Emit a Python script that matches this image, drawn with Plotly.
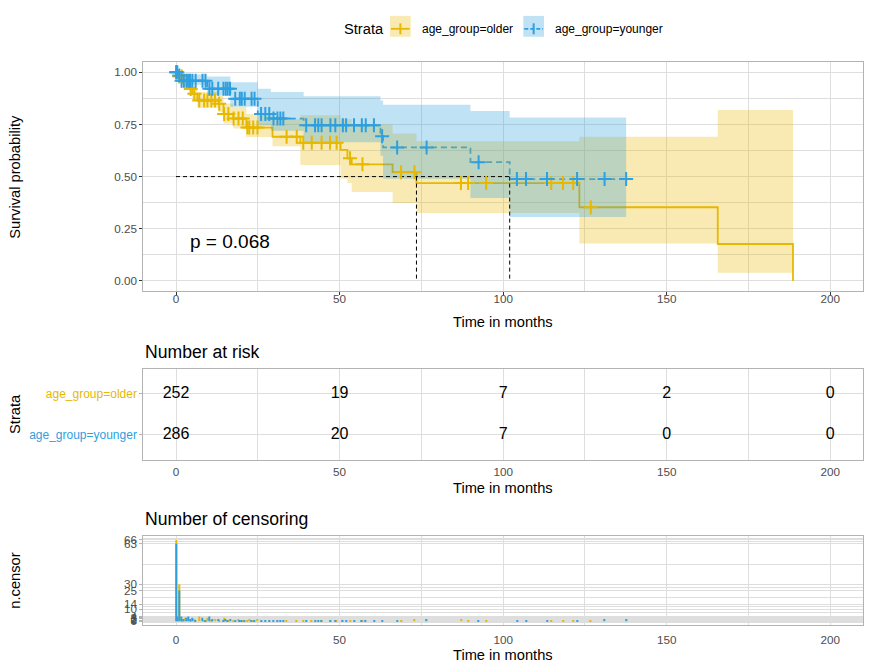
import numpy as np
import plotly.graph_objects as go

FONT = "Liberation Sans, Arial, sans-serif"
W, H = 871, 672

strata_labels = ["age_group=older", "age_group=younger"]
strata_colors = ["#E7B800", "#2E9FDF"]
band_colors = ["rgba(231,184,0,0.3)", "rgba(46,159,223,0.3)"]

# ---- survival estimates ----
older_time = [0, 1, 2, 3, 4, 5, 6.5, 13, 14.5, 17.5, 21.5, 29.5, 38, 50.3, 52.4, 53.7, 66.2, 73.5, 123.3, 165.6, 188.6]
older_surv = [1.0, 0.98, 0.96, 0.94, 0.92, 0.897, 0.865, 0.849, 0.80, 0.778, 0.735, 0.691, 0.662, 0.628, 0.588, 0.559, 0.521, 0.469, 0.353, 0.177, 0.0]
older_lower = [1.0, 0.965, 0.94, 0.915, 0.89, 0.865, 0.83, 0.81, 0.755, 0.73, 0.69, 0.645, 0.556, 0.49, 0.469, 0.426, 0.374, 0.326, 0.179, 0.039, 0.039]
older_upper = [1.0, 0.995, 0.98, 0.965, 0.95, 0.93, 0.905, 0.89, 0.85, 0.835, 0.80, 0.775, 0.794, 0.775, 0.775, 0.75, 0.707, 0.67, 0.691, 0.819, 0.819]

younger_time = [0, 0.5, 1.5, 9.5, 16.6, 25, 29, 39, 62.5, 63.3, 90, 102, 137.6]
younger_surv = [1.0, 0.985, 0.96, 0.921, 0.873, 0.80, 0.778, 0.746, 0.694, 0.64, 0.569, 0.488, 0.488]
younger_lower = [1.0, 0.97, 0.94, 0.89, 0.835, 0.745, 0.72, 0.665, 0.6, 0.49, 0.398, 0.306, 0.306]
younger_upper = [1.0, 1.0, 0.99, 0.98, 0.952, 0.921, 0.905, 0.885, 0.865, 0.845, 0.815, 0.783, 0.783]

# ---- censoring (time, number censored) ----
older_cens_time = [0.05, 1.0, 1.8, 2.9, 4.5, 5.6, 7.1, 8.6, 9.6, 10.8, 11.9, 13.2, 14.7, 16.0, 17.6, 19.1, 20.4,
                   21.8, 22.4, 23.6, 24.9, 33.8, 36.9, 38.9, 41.5, 44.5, 47.1, 49.1, 53.2, 57.0, 68.8, 72.9,
                   87.1, 89.3, 94.8, 114.7, 118.3, 121.4, 126.8]
older_cens_n = [66, 30, 1, 3, 1, 2, 4, 1, 3, 1, 2, 1, 3, 1, 1, 2, 1,
                1, 2, 1, 2, 1, 1, 1, 1, 1, 1, 1, 1, 1, 1, 2,
                2, 1, 1, 1, 1, 1, 1]
younger_cens_time = [0.05, 0.4, 1.0, 1.7, 2.4, 3.3, 3.8, 4.3, 5.0, 6.0, 8.1, 9.0, 10.2, 11.1, 12.9, 14.5, 15.2,
                     15.8, 16.5, 18.1, 19.5, 20.1, 21.0, 23.1, 24.0, 26.0, 27.3, 28.5, 29.8, 31.0, 31.9, 32.8,
                     39.8, 42.5, 43.5, 44.5, 47.2, 48.7, 51.0, 52.0, 54.4, 56.8, 58.0, 60.5, 63.0, 67.6,
                     76.6, 92.5, 104.2, 107.0, 113.4, 122.6, 131.0, 137.6]
younger_cens_n = [63, 4, 25, 4, 2, 3, 4, 2, 3, 1, 3, 1, 4, 2, 2, 1, 2,
                  1, 2, 1, 1, 1, 1, 1, 1, 1, 1, 1, 1, 1, 1, 1,
                  1, 1, 1, 1, 1, 1, 1, 1, 1, 1, 1, 1, 1, 1,
                  2, 1, 1, 1, 1, 1, 2, 2]

censor_breaks = [0, 1, 2, 3, 4, 10, 14, 25, 30, 63, 66]

# ---- risk table ----
risk_times = [0, 50, 100, 150, 200]
older_at_risk = [252, 19, 7, 2, 0]
younger_at_risk = [286, 20, 7, 0, 0]

medians = [73.5, 102]
p_label = "p = 0.068"

x_ticks = [0, 50, 100, 150, 200]
surv_ticks = [0, 0.25, 0.5, 0.75, 1.0]
surv_tick_text = ["0.00", "0.25", "0.50", "0.75", "1.00"]

X_RANGE = [-10, 210]

groups = [
    dict(t=older_time, s=older_surv, lo=older_lower, up=older_upper,
         ct=older_cens_time, cn=older_cens_n, dash="solid"),
    dict(t=younger_time, s=younger_surv, lo=younger_lower, up=younger_upper,
         ct=younger_cens_time, cn=younger_cens_n, dash="6px,4px"),
]


def step_at(times, vals, t):
    i = np.searchsorted(np.asarray(times), t, side="right") - 1
    return vals[max(i, 0)]


def gg_minor(b, lo, hi):
    b = list(b)
    bd = b[1] - b[0]
    if lo < b[0]:
        b = [b[0] - bd] + b
    if hi > b[-1]:
        b = b + [b[-1] + bd]
    out = []
    for a, c in zip(b[:-1], b[1:]):
        out += [a, (a + c) / 2]
    out.append(b[-1])
    return [v for v in out if lo <= v <= hi]


fig = go.Figure()

# survival lines (drawn first so ribbons tint them)
for g, col in zip(groups, strata_colors):
    fig.add_trace(go.Scatter(x=g["t"], y=g["s"], mode="lines", line=dict(color=col, width=1.8, dash=g["dash"], shape="hv"),
                             showlegend=False, hoverinfo="skip", xaxis="x", yaxis="y"))

# confidence ribbons
for g, bc in zip(groups, band_colors):
    fig.add_trace(go.Scatter(x=g["t"], y=g["up"], mode="lines", line=dict(width=0, shape="hv"),
                             showlegend=False, hoverinfo="skip", xaxis="x", yaxis="y"))
    fig.add_trace(go.Scatter(x=g["t"], y=g["lo"], mode="lines", line=dict(width=0, shape="hv"),
                             fill="tonexty", fillcolor=bc, showlegend=False, hoverinfo="skip", xaxis="x", yaxis="y"))

# median lines
mx, my = [0, max(medians)], [0.5, 0.5]
for m in medians:
    mx += [None, m, m]
    my += [None, 0.5, 0]
fig.add_trace(go.Scatter(x=mx, y=my, mode="lines", line=dict(color="black", width=1, dash="4px,3px"),
                         showlegend=False, hoverinfo="skip", xaxis="x", yaxis="y"))

# censor marks
for g, col in zip(groups, strata_colors):
    ys = [step_at(g["t"], g["s"], t) for t in g["ct"]]
    fig.add_trace(go.Scatter(x=g["ct"], y=ys, mode="markers",
                             marker=dict(symbol="cross-thin", size=10, line=dict(color=col, width=2)),
                             showlegend=False, hoverinfo="skip", xaxis="x", yaxis="y"))

# risk table
for row, (counts, col) in enumerate(zip([older_at_risk, younger_at_risk], strata_colors)):
    fig.add_trace(go.Scatter(x=risk_times, y=[2 - row] * len(risk_times), mode="text",
                             text=[str(c) for c in counts],
                             textfont=dict(family=FONT, size=16, color="black"),
                             showlegend=False, hoverinfo="skip", xaxis="x2", yaxis="y2"))

# censoring counts
for g, col in zip(groups, strata_colors):
    fig.add_trace(go.Bar(x=g["ct"], y=g["cn"], width=0.35, marker=dict(color=col, line=dict(width=0)),
                         showlegend=False, hoverinfo="skip", xaxis="x3", yaxis="y3"))

XD = [143.3 / W, 863 / W]
tickfont = dict(family=FONT, size=11.7, color="#4D4D4D")
grid = "#DEDEDE"
border = "#B3B3B3"

def xaxis_common(anchor, ticks, standoff):
    return dict(domain=XD, anchor=anchor, range=X_RANGE, tickmode="array", tickvals=x_ticks,
                showgrid=True, gridcolor=grid, gridwidth=1, zeroline=False,
                minor=dict(tickmode="array", tickvals=[25, 75, 125, 175], showgrid=True, gridcolor=grid, gridwidth=0.8),
                showline=True, mirror=True, linecolor=border, linewidth=1,
                ticks=ticks, ticklen=3, tickcolor="#333333", tickwidth=1, tickfont=tickfont,
                ticklabelstandoff=standoff)

cens_range = [-3.3, 69.3]
fig.update_layout(
    width=W, height=H, margin=dict(l=0, r=0, t=0, b=0),
    paper_bgcolor="white", plot_bgcolor="white",
    font=dict(family=FONT, color="black"),
    barmode="overlay", showlegend=False,
    xaxis=xaxis_common("y", "outside", -6),
    yaxis=dict(domain=[1 - 290.5 / H, 1 - 59.3 / H], range=[-0.05, 1.05], tickmode="array",
               tickvals=surv_ticks, ticktext=surv_tick_text,
               showgrid=True, gridcolor=grid, gridwidth=1, zeroline=False,
               minor=dict(tickmode="array", tickvals=[0.125, 0.375, 0.625, 0.875], showgrid=True, gridcolor=grid, gridwidth=0.8),
               showline=True, mirror=True, linecolor=border, linewidth=1,
               ticks="outside", ticklen=3, tickcolor="#333333", tickfont=tickfont, ticklabelstandoff=0),
    xaxis2=xaxis_common("y2", "", 1),
    yaxis2=dict(domain=[1 - 460 / H, 1 - 369 / H], range=[0.4, 2.6], tickmode="array", tickvals=[2, 1],
                ticktext=[f'<span style="color:{c}">{s}</span>' for s, c in zip(strata_labels, strata_colors)],
                showgrid=True, gridcolor=grid, gridwidth=1, zeroline=False,
                showline=True, mirror=True, linecolor=border, linewidth=1,
                ticks="outside", ticklen=3, tickcolor=border, tickfont=dict(family=FONT, size=12), ticklabelstandoff=0),
    xaxis3=xaxis_common("y3", "", 4),
    yaxis3=dict(domain=[1 - 627.1 / H, 1 - 536.9 / H], range=cens_range, tickmode="array",
                tickvals=censor_breaks, ticktext=[str(v) for v in censor_breaks],
                showgrid=True, gridcolor=grid, gridwidth=1, zeroline=False,
                minor=dict(tickmode="array", tickvals=gg_minor(censor_breaks, *cens_range), showgrid=True,
                           gridcolor=grid, gridwidth=0.8),
                showline=True, mirror=True, linecolor=border, linewidth=1,
                ticks="outside", ticklen=3, tickcolor=border, tickfont=tickfont, ticklabelstandoff=0),
)

def ann(text, px, py, size, anchor="center", angle=0, color="black", yanchor="middle"):
    fig.add_annotation(text=text, x=px / W, y=1 - py / H, xref="paper", yref="paper", showarrow=False,
                       xanchor=anchor, yanchor=yanchor, textangle=angle,
                       font=dict(family=FONT, size=size, color=color))

ann("Survival probability", 15, 175, 14.67, angle=-90)
ann("Time in months", 503, 321, 14.67)
ann("Number at risk", 143.3, 352, 17.6, anchor="left")
ann("Strata", 15, 414, 14.67, angle=-90)
ann("Time in months", 503, 489, 14.67)
ann("Number of censoring", 143.3, 520, 17.6, anchor="left")
ann("n.censor", 15, 582, 14.67, angle=-90)
ann("Time in months", 503, 657, 14.67)

fig.add_annotation(text=p_label, x=3.7, y=0.19, xref="x", yref="y", showarrow=False, xanchor="left",
                   font=dict(family=FONT, size=19, color="black"))

# legend (manual, ggplot style)
LY = 26
ann("Strata", 342, LY, 14.67, anchor="left")
legend_x = [390, 523.3]
legend_text_x = [420, 552.7]
for lx, tx, lab, col, bc, dash in zip(legend_x, legend_text_x, strata_labels, strata_colors, band_colors,
                                      ["solid", "4px,2px"]):
    fig.add_shape(type="rect", xref="paper", yref="paper", x0=lx / W, x1=(lx + 20.7) / W,
                  y0=1 - (LY + 8) / H, y1=1 - (LY - 13) / H, fillcolor=bc, line=dict(width=0), layer="below")
    fig.add_shape(type="line", xref="paper", yref="paper", x0=(lx + 1) / W, x1=(lx + 19.7) / W,
                  y0=1 - LY / H, y1=1 - LY / H, line=dict(color=col, width=1.8, dash=dash))
    fig.add_shape(type="line", xref="paper", yref="paper", x0=(lx + 10.35) / W, x1=(lx + 10.35) / W,
                  y0=1 - (LY - 5.5) / H, y1=1 - (LY + 5.5) / H, line=dict(color=col, width=2))
    ann(lab, tx, LY, 12, anchor="left")

fig.write_html("out.html", config={"displayModeBar": False},
               post_script="document.body.style.margin='0px';document.body.style.overflow='hidden';")
